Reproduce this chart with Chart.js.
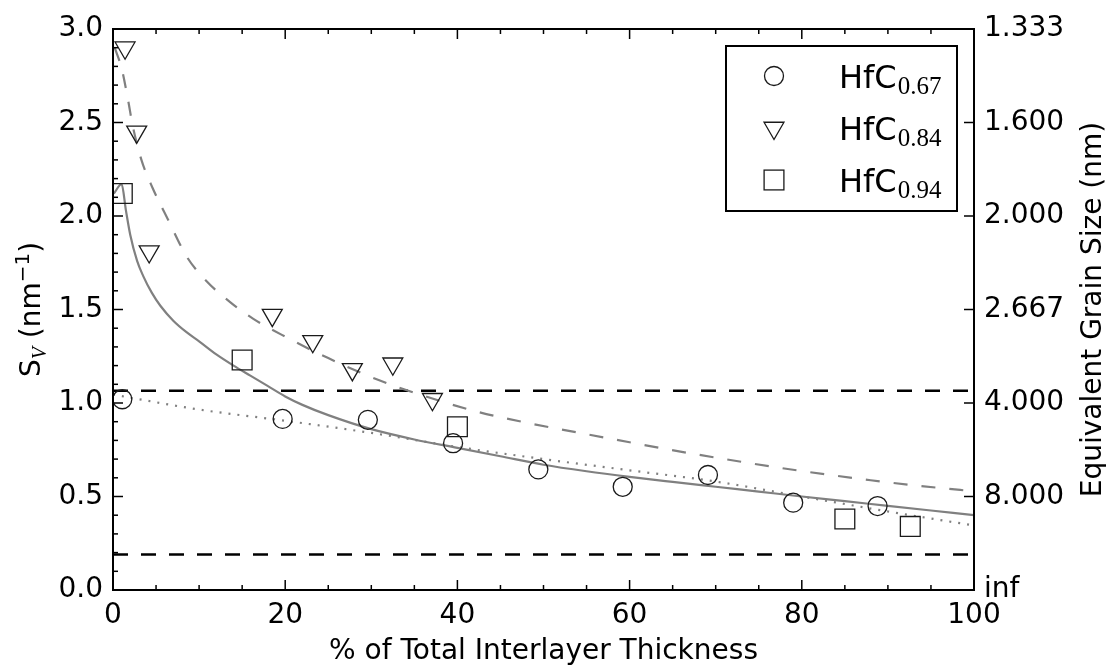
<!DOCTYPE html>
<html>
<head>
<meta charset="utf-8">
<script src="https://cdn.jsdelivr.net/npm/chart.js"></script>
<style>
  body { margin: 0; background: #fff; }
  #chart { display: block; }
</style>
</head>
<body>
<canvas id="chart" width="1106" height="666"></canvas>
<script>
const hfc067_x = [1.08, 19.7, 29.6, 39.5, 49.4, 59.2, 69.1, 79.0, 88.8];
const hfc067_y = [1.02, 0.915, 0.91, 0.785, 0.645, 0.552, 0.615, 0.467, 0.449];
const hfc084_x = [1.4, 2.75, 4.2, 18.5, 23.2, 27.8, 32.5, 37.1];
const hfc084_y = [2.90, 2.45, 1.81, 1.47, 1.33, 1.18, 1.21, 1.02];
const hfc094_x = [1.08, 15.0, 40.0, 85.0, 92.6];
const hfc094_y = [2.12, 1.23, 0.873, 0.38, 0.34];

// fitted curves (gray)
const fitSolid_x = [0.1, 1, 1.5, 2, 2.8, 3.5, 4.5, 5.5, 7, 8.5, 10, 12, 14, 16, 18, 20, 22, 25, 30, 35, 40, 45, 50, 55, 60, 65, 70, 75, 80, 85, 90, 95, 100];
const fitSolid_y = [2.12, 2.17, 2.03, 1.90, 1.76, 1.68, 1.59, 1.52, 1.44, 1.38, 1.33, 1.26, 1.20, 1.145, 1.09, 1.035, 0.99, 0.935, 0.86, 0.805, 0.76, 0.715, 0.67, 0.635, 0.605, 0.578, 0.552, 0.526, 0.50, 0.475, 0.45, 0.425, 0.40];
const fitDashed_x = [0.2, 1, 1.75, 2.3, 3.3, 4.6, 6.4, 8.6, 10.9, 13.6, 16.3, 20.2, 25, 31, 37, 42.6, 48, 54.2, 60, 65.9, 71.7, 77.5, 83, 88, 93, 98.4, 100];
const fitDashed_y = [2.90, 2.79, 2.62, 2.48, 2.30, 2.15, 1.98, 1.78, 1.65, 1.54, 1.45, 1.35, 1.24, 1.12, 1.025, 0.95, 0.895, 0.84, 0.79, 0.74, 0.695, 0.653, 0.617, 0.587, 0.56, 0.535, 0.527];
const fitDotted_x = [0, 10, 20, 30, 40, 50, 60, 70, 80, 90, 100];
const fitDotted_y = [1.045, 0.965, 0.905, 0.84, 0.765, 0.70, 0.64, 0.58, 0.50, 0.42, 0.345];

// horizontal reference levels
const refLevels = [1.065, 0.19];

const grainSizeLabels = ['inf', '8.000', '4.000', '2.667', '2.000', '1.600', '1.333'];
const legendSubs = ['0.67', '0.84', '0.94'];

const FONT = 'DejaVu Sans';
Chart.defaults.font.family = FONT;
Chart.defaults.font.size = 28;
Chart.defaults.color = '#000';

function zip(xs, ys) {
    return xs.map((x, i) => ({x: x, y: ys[i]}));
}

function curve(xs, ys, dash) {
    return {
        type: 'line', data: zip(xs, ys), showLine: true, pointRadius: 0,
        borderColor: '#808080', borderWidth: 2.2, borderDash: dash,
        cubicInterpolationMode: 'monotone', order: 2
    };
}

function markers(xs, ys, style, radius, rotation) {
    return {
        type: 'scatter', data: zip(xs, ys), pointStyle: style, pointRadius: radius,
        pointRotation: rotation, pointBackgroundColor: 'rgba(0,0,0,0)',
        pointBorderColor: '#1a1a1a', pointBorderWidth: 1.3, order: 0
    };
}

let datasets = refLevels.map(v => ({
    type: 'line', data: [{x: 0, y: v}, {x: 100, y: v}], pointRadius: 0,
    borderColor: '#000', borderWidth: 2.5, borderDash: [15, 13], order: 3
}));
datasets.push(curve(fitSolid_x, fitSolid_y, []));
datasets.push(curve(fitDashed_x, fitDashed_y, [14, 14]));
datasets.push(curve(fitDotted_x, fitDotted_y, [2, 7]));
datasets.push(markers(hfc067_x, hfc067_y, 'circle', 9.5, 0));
datasets.push(markers(hfc084_x, hfc084_y, 'triangle', 11.5, 180));
datasets.push(markers(hfc094_x, hfc094_y, 'rect', 14, 0));

function line(ctx, x1, y1, x2, y2) {
    ctx.beginPath(); ctx.moveTo(x1, y1); ctx.lineTo(x2, y2); ctx.stroke();
}

const frame_plugin = {
    id: 'frame',
    afterDraw(chart) {
        const {ctx, chartArea: a, scales} = chart;
        ctx.save();
        ctx.strokeStyle = '#000';
        ctx.lineWidth = 1.5;
        // inward tick marks
        for (let v = 0; v <= 100; v += 5) {
            const px = scales.x.getPixelForValue(v);
            const len = v % 20 === 0 ? 10 : 5;
            line(ctx, px, a.bottom, px, a.bottom - len);
            line(ctx, px, a.top, px, a.top + len);
        }
        for (let i = 0; i <= 30; i++) {
            const py = scales.y.getPixelForValue(i / 10);
            line(ctx, a.left, py, a.left + (i % 5 === 0 ? 10 : 5), py);
        }
        for (let i = 0; i <= 6; i++) {
            const py = scales.y1.getPixelForValue(i * 0.5);
            line(ctx, a.right, py, a.right - 10, py);
        }
        ctx.lineWidth = 2;
        ctx.strokeRect(a.left, a.top, a.right - a.left, a.bottom - a.top);

        // left axis title: S_V (nm^-1)
        ctx.fillStyle = '#000';
        ctx.textBaseline = 'alphabetic';
        ctx.textAlign = 'left';
        const parts = [
            {t: 'S', f: '28px ' + FONT, dy: 0},
            {t: 'V', f: 'italic 20px "Liberation Serif"', dy: 6},
            {t: ' (nm', f: '28px ' + FONT, dy: 0},
            {t: '\u22121', f: '20px ' + FONT, dy: -11},
            {t: ')', f: '28px ' + FONT, dy: 0}
        ];
        let total = 0;
        parts.forEach(p => { ctx.font = p.f; p.w = ctx.measureText(p.t).width; total += p.w; });
        ctx.save();
        ctx.translate(40, (a.top + a.bottom) / 2);
        ctx.rotate(-Math.PI / 2);
        let cx = -total / 2;
        parts.forEach(p => { ctx.font = p.f; ctx.fillText(p.t, cx, p.dy); cx += p.w; });
        ctx.restore();

        // right axis title
        ctx.save();
        ctx.translate(1101, (a.top + a.bottom) / 2);
        ctx.rotate(-Math.PI / 2);
        ctx.font = '28px ' + FONT;
        ctx.textAlign = 'center';
        ctx.fillText('Equivalent Grain Size (nm)', 0, 0);
        ctx.restore();

        // legend
        ctx.fillStyle = '#fff';
        ctx.fillRect(726, 46, 231, 165);
        ctx.strokeStyle = '#000';
        ctx.lineWidth = 2;
        ctx.strokeRect(726, 46, 231, 165);
        ctx.strokeStyle = '#1a1a1a';
        ctx.lineWidth = 1.3;
        const mx = 774;
        const rows = [76, 128, 180];
        ctx.beginPath(); ctx.arc(mx, rows[0], 9.5, 0, Math.PI * 2); ctx.stroke();
        ctx.beginPath();
        ctx.moveTo(mx, rows[1] + 11.5);
        ctx.lineTo(mx - 9.96, rows[1] - 5.75);
        ctx.lineTo(mx + 9.96, rows[1] - 5.75);
        ctx.closePath(); ctx.stroke();
        ctx.strokeRect(mx - 9.9, rows[2] - 9.9, 19.8, 19.8);
        ctx.fillStyle = '#000';
        rows.forEach((ry, i) => {
            ctx.font = '32px ' + FONT;
            ctx.fillText('HfC', 839, ry + 12);
            const w = ctx.measureText('HfC').width;
            ctx.font = '25px "Liberation Serif"';
            ctx.fillText(legendSubs[i], 839 + w + 1, ry + 17.5);
        });
        ctx.restore();
    }
};

const ctx = document.getElementById('chart');
new Chart(ctx, {
    type: 'scatter',
    data: {datasets: datasets},
    options: {
        responsive: false,
        animation: false,
        layout: {padding: {top: 29, left: 0, right: 0, bottom: 0}},
        plugins: {legend: {display: false}, tooltip: {enabled: false}},
        scales: {
            x: {
                type: 'linear', min: 0, max: 100,
                ticks: {stepSize: 20, padding: 9},
                grid: {display: false, drawTicks: false},
                border: {display: false},
                title: {display: true, text: '% of Total Interlayer Thickness', padding: {top: 0, bottom: -3}},
                afterFit: s => { s.height = 76; }
            },
            y: {
                position: 'left', min: 0, max: 3,
                ticks: {stepSize: 0.5, padding: 10, callback: v => v.toFixed(1)},
                grid: {display: false, drawTicks: false},
                border: {display: false},
                afterFit: s => { s.width = 113; }
            },
            y1: {
                position: 'right', min: 0, max: 3,
                ticks: {stepSize: 0.5, padding: 10, callback: (v, i) => grainSizeLabels[i]},
                grid: {display: false, drawTicks: false},
                border: {display: false},
                afterFit: s => { s.width = 132; }
            }
        }
    },
    plugins: [frame_plugin]
});
</script>
</body>
</html>
